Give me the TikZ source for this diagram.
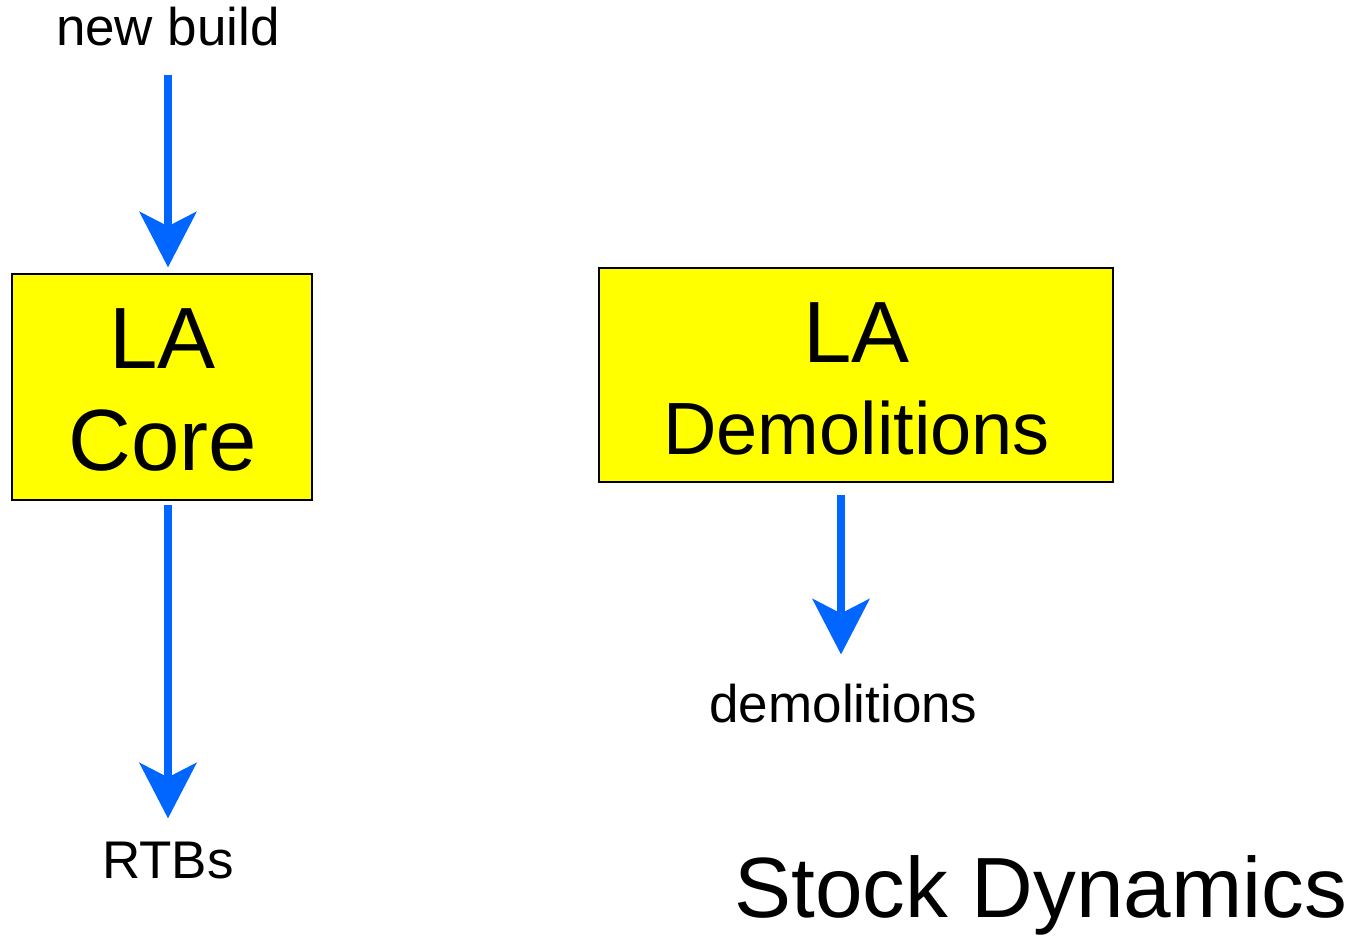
\documentclass[tikz,border=0pt]{standalone}
\usepackage{fontspec}
\setmainfont{Liberation Sans}
\usetikzlibrary{arrows.meta}
\definecolor{flowblue}{RGB}{0,102,255}
\definecolor{boxyellow}{RGB}{255,255,0}
\tikzset{
  flow/.style={draw=flowblue, line width=8.5pt,
    -{Stealth[length=56pt,width=58pt,inset=15pt,line width=0pt]}},
  stockbox/.style={draw=black, line width=1.5pt, fill=boxyellow, inner sep=0pt},
  small/.style={inner sep=0pt, anchor=base, font=\fontsize{53}{60}\selectfont},
  big/.style={inner sep=0pt, anchor=base, font=\fontsize{87}{100}\selectfont},
  mid/.style={inner sep=0pt, anchor=base, font=\fontsize{74}{86}\selectfont},
  title/.style={inner sep=0pt, anchor=base west, font=\fontsize{85.5}{100}\selectfont}
}
\begin{document}
\begin{tikzpicture}[x=1pt,y=-1pt]
\useasboundingbox (0,0) rectangle (1365,936);
% boxes
\node[stockbox, minimum width=300pt, minimum height=226pt] (core) at (162,387) {};
\node[stockbox, minimum width=514pt, minimum height=214pt] (demo) at (856,375) {};
% box texts
\node[big] (coreLA) at (162.5,368) {LA};
\node[big] (coreC) at (162.5,470) {Core};
\node[big] (demoLA) at (856.5,362) {LA};
\node[mid] (demoD) at (856.5,454) {Demolitions};
% flow labels
\node[small] (newbuild) at (168,46) {new build};
\node[small] (rtbs) at (168,878) {RTBs};
\node[small] (demolab) at (843.5,722) {demolitions};
\node[title] (title) at (734,917) {Stock Dynamics};
% flows
\draw[flow, shorten <=28pt, shorten >=6pt] (newbuild.south) -- (newbuild.south |- core.north);
\draw[flow, shorten <=4pt, shorten >=23pt] ([xshift=6pt]core.south) -- ([xshift=6pt]core.south |- rtbs.north);
\draw[flow, shorten <=12pt, shorten >=29pt] ([xshift=-15pt]demo.south) -- ([xshift=-15pt]demo.south |- demolab.north);
\end{tikzpicture}
\end{document}
